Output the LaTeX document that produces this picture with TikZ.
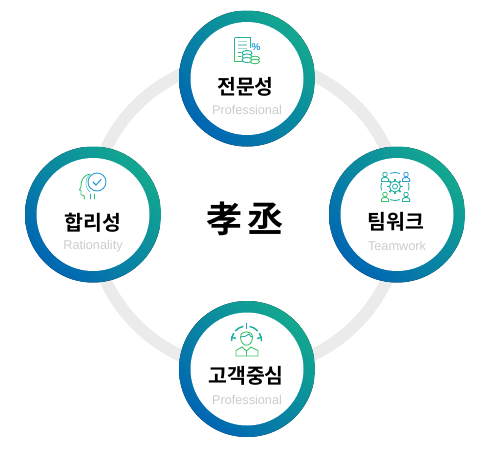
\documentclass[tikz,border=0pt]{standalone}
\usepackage{fontspec}
\setmainfont{Liberation Sans}
\newfontfamily\kohead{Noto Sans CJK KR Bold}
\definecolor{ringblue}{HTML}{0066B3}
\definecolor{ringgreen}{HTML}{13A88F}
\definecolor{icg}{HTML}{3CC46A}
\definecolor{icb}{HTML}{2D9CDB}
\definecolor{ict}{HTML}{22B0A0}
\definecolor{ils}{HTML}{A5DDD5}
\tikzset{
  bigring/.style={draw=black!8,line width=12pt},
  disc/.style={circle,minimum size=136pt,inner sep=0pt,outer sep=0pt,path picture={
     \fill[left color=ringgreen,right color=ringblue,shading angle=-45]
       (path picture bounding box.south west) rectangle (path picture bounding box.north east);}},
  inner/.style={circle,fill=white,minimum size=113pt,inner sep=0pt},
  ko/.style={font=\kohead\fontsize{20.5}{20.5}\selectfont,text=black,inner sep=0pt},
  en/.style={font=\fontsize{12.7}{12.7}\selectfont,text=black!20,inner sep=0pt},
  ig/.style={draw=icg,line width=.9pt},
  ib/.style={draw=icb,line width=.9pt},
  it/.style={draw=ict,line width=.9pt},
}
\begin{document}
\begin{tikzpicture}[x=1pt,y=-1pt]
\useasboundingbox[fill=white] (0,0) rectangle (490,450);
\draw[bigring] (246,215) circle (155);
% discs
\node[disc] (dt) at (247,78.5) {};
\node[inner] (it1) at (247,78.5) {};
\node[disc] (dl) at (93,214.5) {};
\node[inner] (il1) at (93,214.5) {};
\node[disc] (dr) at (397,214.5) {};
\node[inner] (ir1) at (397,214.5) {};
\node[disc] (db) at (247,369) {};
\node[inner] (ib1) at (247,369) {};
% centre
\node[font=\kohead\fontsize{36}{36}\selectfont,inner sep=0pt] (c) at (245,219) {孝\hspace{5pt}丞};
% labels
\node[ko] (t1) at (245.5,87) {전문성};
\node[en] (t2) at (247,110) {Professional};
\node[ko] (l1) at (93,223) {합리성};
\node[en] (l2) at (93,246) {Rationality};
\node[ko] (r1) at (396,222) {팀워크};
\node[en] (r2) at (397,246) {Teamwork};
\node[ko] (b1) at (246,376) {고객중심};
\node[en] (b2) at (247,400) {Professional};
% icon: professional
\draw[it] (234.5,37.5) -- (250,37.5) -- (250,48);
\draw[it] (234.5,37.5) -- (234.5,50);
\draw[ig] (234.5,50) -- (234.5,61) -- (243,61);
\draw[ils,line width=1.6pt] (237.5,41.5) -- (247,41.5) (237.5,45) -- (247,45) (237.5,48.5) -- (247,48.5);
\draw[ict,line width=1pt] (237.5,52) -- (241,52);
\draw[ig,line width=1pt] (237.5,56) -- (241,56);
\foreach \yy in {53,56.5,60}{\draw[it,fill=white] (247,\yy) ellipse (5 and 2.6);}
\foreach \yy in {58.5,61.5}{\draw[ig,fill=white] (255,\yy) ellipse (4.5 and 2.3);}
\node[font=\fontsize{10}{10}\selectfont\bfseries,text=icb,inner sep=0pt] (pc) at (256,47) {\%};
% icon: rationality
\draw[ig,line cap=round] (84.5,199) .. controls (84.5,196) and (84,195) .. (82,195)
  -- (81,195) -- (81,190.5) -- (79.5,190) -- (81,186.5) .. controls (81,178) and (85,175) .. (90,174);
\draw[ict,line cap=round] (90,199) -- (90,194);
\draw[ict,line cap=round] (90,174) .. controls (87.5,176) and (86,179) .. (86,184) .. controls (86,188) and (88,190) .. (90,192);
\draw[ig,line cap=round] (94,199) -- (94,194);
\draw[ib] (97,182) circle (9);
\draw[ib,line width=1.1pt,line cap=round] (93,182) -- (96,185) -- (101,179.5);
% icon: teamwork
\node[circle,draw=ict,line width=.8pt,minimum size=5pt,inner sep=0pt] (g0) at (395,186.5) {};
\draw[it] (395,186.5) circle (5.5);
\foreach \a in {0,45,...,315}{\draw[ict,line width=1.6pt] (395,186.5) ++(\a:5.6) -- ++(\a:2.2);}
\foreach \p/\q/\c in {385/175.5/ict,406/175.5/icb,385/195.5/icg,406/195.5/ict}{
  \draw[draw=\c,line width=.8pt] (\p,\q-1) circle (2.3);
  \draw[draw=\c,line width=.8pt] (\p-3.6,\q+6) -- (\p-3.6,\q+3.6) -- (\p-1.5,\q+2) -- (\p+1.5,\q+2) -- (\p+3.6,\q+3.6) -- (\p+3.6,\q+6) -- cycle;
}
\draw[it] (395,186.5) ++(165:14) arc (165:195:14);
\draw[it] (395,186.5) ++(-15:14) arc (-15:15:14);
\draw[it] (395,186.5) ++(70:14) arc (70:110:14);
\draw[ib] (395,186.5) ++(250:14) arc (250:290:14);
% icon: customer
\draw[ict,line width=1.5pt] (246.5,341) ++(180:15) arc (180:212:15);
\draw[ict,line width=1.5pt] (246.5,341) ++(222:15) arc (222:258:15);
\draw[ict,line width=1.5pt] (246.5,341) ++(282:15) arc (282:318:15);
\draw[ict,line width=1.5pt] (246.5,341) ++(328:15) arc (328:360:15);
\draw[ict,line width=1.4pt] (231,337) -- (236,338.5) (257,338.5) -- (262,337);
\draw[icb,line width=1.6pt] (246.5,323) -- (246.5,329);
\draw[ig] (240.5,337) .. controls (240.5,348) and (252.5,348) .. (252.5,337) .. controls (252.5,330) and (240.5,330) .. (240.5,337);
\draw[it] (240.5,337) .. controls (244,337) and (247,336) .. (249,334) .. controls (250,336) and (251,337) .. (252.5,337);
\draw[ig] (236,356) -- (236,350.5) -- (242,347) -- (246.5,351) -- (251,347) -- (258,350.5) -- (258,356) -- cycle;
\draw[ig] (246.5,351) -- (246.5,356);
\end{tikzpicture}
\end{document}
